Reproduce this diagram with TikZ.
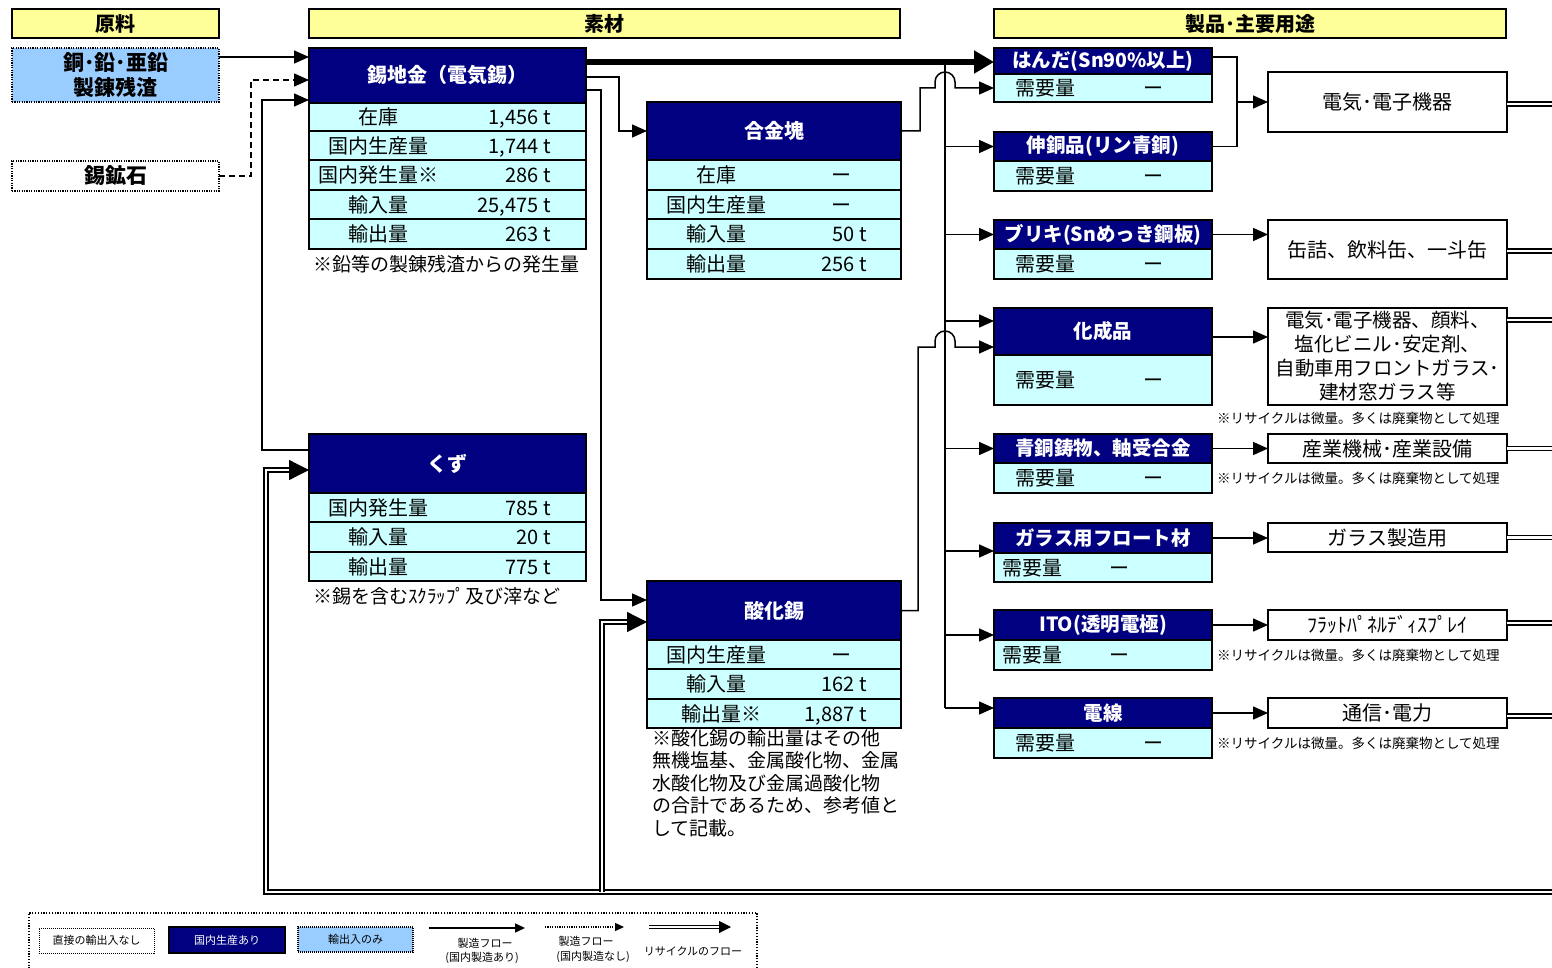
\documentclass[tikz,border=0pt]{standalone}
\usepackage{fontspec}
\setmainfont{Noto Sans CJK JP}
\usetikzlibrary{arrows.meta}
\definecolor{hdrY}{HTML}{FFFF99}
\definecolor{navyB}{HTML}{000080}
\definecolor{rowC}{HTML}{CCFFFF}
\definecolor{blueL}{HTML}{99CCFF}
\newcommand\fs[1]{\fontsize{#1}{#1}\selectfont}
\newcommand\bx[7]{\node[#1,anchor=north west,minimum width={#4pt-#2pt},minimum height={#5pt-#3pt}] (#6) at (#2,#3) {#7};}
\newcommand\rw[9]{\bx{cellr}{#1}{#2}{#3}{#4}{#5}{}%
  \node[lab] (#5l) at (#6,{(#2+#4)/2}) {#7};%
  \node[valr] (#5v) at (#8,{(#2+#4)/2}) {#9};}
\begin{document}
\begin{tikzpicture}[x=1pt,y=-1pt,
 box/.style={anchor=north west,inner sep=0pt,outer sep=0pt,draw=black,line width=2.5pt},
 yhdr/.style={box,fill=hdrY,font=\bfseries\fs{20}},
 navyh/.style={box,fill=navyB,text=white,font=\bfseries\fs{20}},
 prodh/.style={box,fill=navyB,text=white,font=\bfseries\fs{19.5}},
 cellr/.style={box,fill=rowC},
 useb/.style={box,fill=white,font=\fs{20},align=center},
 srcb/.style={box,dash pattern=on 1.2pt off 1.2pt,font=\bfseries\fontsize{21}{25}\selectfont,align=center},
 lab/.style={inner sep=0pt,font=\fs{20},text height=17.6pt,text depth=2.4pt},
 valr/.style={inner sep=0pt,font=\fs{20},anchor=east,text height=17.6pt,text depth=2.4pt},
 notel/.style={inner sep=0pt,font=\fs{19},anchor=west},
 rnote/.style={inner sep=0pt,font=\fs{13.5},anchor=west},
 ln/.style={line width=1.5pt},
 flow/.style={ln,-{Triangle[length=15pt,width=13pt]}},
 recyc/.style={double=white,double distance=2.5pt,line width=1.3pt},
 recarr/.style={recyc,-{Triangle[length=20pt,width=20pt]}},
 lgt/.style={inner sep=0pt,font=\fs{11}},
]
\useasboundingbox[fill=white] (0,0) rectangle (1552,968);

% headers
\bx{yhdr}{12}{9}{219}{38}{hA}{原料}
\bx{yhdr}{309}{9}{900}{38}{hB}{素材}
\bx{yhdr}{994}{9}{1506}{38}{hC}{製品･主要用途}

% sources
\bx{srcb,fill=blueL}{12}{48}{219}{102}{sCu}{銅･鉛･亜鉛\\製錬残渣}
\bx{srcb,fill=white}{12}{161}{219}{191}{sOre}{錫鉱石}

% tin ingot
\bx{navyh}{309}{48}{586}{103}{tinH}{錫地金（電気錫）}
\rw{309}{103}{586}{131}{tinA}{378}{在庫}{551}{1,456 t}
\rw{309}{131}{586}{160}{tinB}{378}{国内生産量}{551}{1,744 t}
\rw{309}{160}{586}{190}{tinC}{378}{国内発生量※}{551}{286 t}
\rw{309}{190}{586}{219}{tinD}{378}{輸入量}{551}{25,475 t}
\rw{309}{219}{586}{249}{tinE}{378}{輸出量}{551}{263 t}
\node[notel] (tinN) at (313,264) {※鉛等の製錬残渣からの発生量};

% alloy
\bx{navyh}{647}{102}{901}{160}{gH}{合金塊}
\rw{647}{160}{901}{190}{gA}{716}{在庫}{852}{ー}
\rw{647}{190}{901}{219}{gB}{716}{国内生産量}{852}{ー}
\rw{647}{219}{901}{249}{gC}{716}{輸入量}{867}{50 t}
\rw{647}{249}{901}{279}{gD}{716}{輸出量}{867}{256 t}

% scrap
\bx{navyh}{309}{434}{586}{493}{kH}{くず}
\rw{309}{493}{586}{522}{kA}{378}{国内発生量}{551}{785 t}
\rw{309}{522}{586}{552}{kB}{378}{輸入量}{551}{20 t}
\rw{309}{552}{586}{581}{kC}{378}{輸出量}{551}{775 t}
\node[notel] (kN) at (313,596) {※錫を含むｽｸﾗｯﾌﾟ及び滓など};

% tin oxide
\bx{navyh}{647}{581}{901}{640}{oH}{酸化錫}
\rw{647}{640}{901}{669}{oA}{716}{国内生産量}{852}{ー}
\rw{647}{669}{901}{699}{oB}{716}{輸入量}{867}{162 t}
\rw{647}{699}{901}{728}{oC}{721}{輸出量※}{867}{1,887 t}
\node[inner sep=0pt,anchor=north west,align=left,font=\fontsize{19}{22.5}\selectfont] (oN) at (652,729)
 {※酸化錫の輸出量はその他\\無機塩基、金属酸化物、金属\\水酸化物及び金属過酸化物\\の合計であるため、参考値と\\して記載。};

% products
\bx{prodh}{994}{48}{1212}{74}{p1H}{はんだ(Sn90\%以上)}
\rw{994}{74}{1212}{102}{p1r}{1045}{需要量}{1164}{ー}
\bx{prodh}{994}{132}{1212}{161}{p2H}{伸銅品(リン青銅)}
\rw{994}{161}{1212}{191}{p2r}{1045}{需要量}{1164}{ー}
\bx{prodh}{994}{220}{1212}{249}{p3H}{ブリキ(Snめっき鋼板)}
\rw{994}{249}{1212}{279}{p3r}{1045}{需要量}{1164}{ー}
\bx{prodh}{994}{308}{1212}{355}{p4H}{化成品}
\rw{994}{355}{1212}{405}{p4r}{1045}{需要量}{1164}{ー}
\bx{prodh}{994}{434}{1212}{463}{p5H}{青銅鋳物、軸受合金}
\rw{994}{463}{1212}{493}{p5r}{1045}{需要量}{1164}{ー}
\bx{prodh}{994}{523}{1212}{553}{p6H}{ガラス用フロート材}
\rw{994}{553}{1212}{582}{p6r}{1032}{需要量}{1130}{ー}
\bx{prodh}{994}{610}{1212}{640}{p7H}{ITO(透明電極)}
\rw{994}{640}{1212}{670}{p7r}{1032}{需要量}{1130}{ー}
\bx{prodh}{994}{698}{1212}{728}{p8H}{電線}
\rw{994}{728}{1212}{758}{p8r}{1045}{需要量}{1164}{ー}

% uses
\bx{useb}{1268}{72}{1507}{132}{u1}{電気･電子機器}
\bx{useb}{1268}{220}{1507}{279}{u2}{缶詰、飲料缶、一斗缶}
\bx{useb,font=\fontsize{19.5}{24}\selectfont}{1268}{308}{1507}{405}{u3}{電気･電子機器、顔料、\\塩化ビニル･安定剤、\\自動車用フロントガラス･\\建材窓ガラス等}
\bx{useb}{1268}{434}{1507}{463}{u4}{産業機械･産業設備}
\bx{useb}{1268}{523}{1507}{552}{u5}{ガラス製造用}
\bx{useb}{1268}{610}{1507}{640}{u6}{ﾌﾗｯﾄﾊﾟﾈﾙﾃﾞｨｽﾌﾟﾚｲ}
\bx{useb}{1268}{698}{1507}{728}{u7}{通信･電力}
\node[rnote] (n1) at (1217,418) {※リサイクルは微量。多くは廃棄物として処理};
\node[rnote] (n2) at (1217,478) {※リサイクルは微量。多くは廃棄物として処理};
\node[rnote] (n3) at (1217,655) {※リサイクルは微量。多くは廃棄物として処理};
\node[rnote] (n4) at (1217,743) {※リサイクルは微量。多くは廃棄物として処理};

% ---- connectors ----
\draw[flow] ([yshift=18]sCu.east) -- ([yshift=18]sCu.east -| tinH.west);
\draw[flow,dash pattern=on 6pt off 4pt] (sOre.east) -- (251,176) |- ([yshift=-4.5]tinH.west);
\draw[flow] ([yshift=13.5]kH.west) -- (262,450) |- ([yshift=-24.5]tinH.west);
\draw[line width=6pt,-{Triangle[length=20pt,width=22pt]}] ([yshift=13.5]tinH.east) -- ([yshift=13.5]tinH.east -| p1H.west);
\draw[flow] ([yshift=-1.5]tinH.east) -- (619,77) |- (gH.west);
\draw[flow] ([yshift=-14.5]tinH.east) -- (601,90) |- ([yshift=10.5]oH.west);
\draw[flow] (gH.east) -- (920,131) -- (920,88) -- (935,88) -- (935,82) arc[start angle=180,end angle=0,radius=10pt] -- (955,88) -- (p1r.west);
\draw[flow] (oH.east) -- (918,610.5) -- (918,347) -- (935,347) -- (935,341) arc[start angle=180,end angle=0,radius=10pt] -- (955,347) -- ([yshift=-15.5]p4H.west);
\coordinate (busT) at (945,62);
\coordinate (busB) at (945,708);
\draw[ln] (busT) -- (busB);
\draw[flow] (busT |- p2H.west) -- (p2H.west);
\draw[flow] (busT |- p3H.west) -- (p3H.west);
\draw[flow] ([yshift=10.5]p4H.west -| busT) -- ([yshift=10.5]p4H.west);
\draw[flow] (busT |- p5H.west) -- (p5H.west);
\draw[flow] ([yshift=-13]p6H.west -| busT) -- ([yshift=-13]p6H.west);
\draw[flow] ([yshift=-10]p7H.west -| busT) -- ([yshift=-10]p7H.west);
\draw[flow] (busB) -- (busB -| p8H.west);
% products to uses
\coordinate (jn) at (1237,102);
\draw[ln] ([yshift=4]p1H.east) -| (jn |- p2H.east) -- (p2H.east);
\draw[flow] (jn) -- (u1.west);
\draw[flow] (p3H.east) -- (p3H.east -| u2.west);
\draw[flow] ([yshift=-5.5]p4H.east) -- ([yshift=-5.5]p4H.east -| u3.west);
\draw[flow] (p5H.east) -- (p5H.east -| u4.west);
\draw[flow] (p6H.east) -- (p6H.east -| u5.west);
\draw[flow] (p7H.east) -- (p7H.east -| u6.west);
\draw[flow] (p8H.east) -- (p8H.east -| u7.west);
% recycle
\coordinate (rE) at (1562,892);
\draw[recyc] ([yshift=-2]u1.east) -- ([yshift=-2]u1.east -| rE);
\draw[recyc] ([yshift=-1.5]u2.east) -- ([yshift=-1.5]u2.east -| rE);
\draw[recyc] ([yshift=36.5]u3.east) -- ([yshift=36.5]u3.east -| rE);
\draw[recyc] (u4.east) -- (u4.east -| rE);
\draw[recyc] (u5.east) -- (u5.east -| rE);
\draw[recyc] ([yshift=2]u6.east) -- ([yshift=2]u6.east -| rE);
\draw[recyc] ([yshift=-3]u7.east) -- ([yshift=-3]u7.east -| rE);
\draw[recarr] (rE) -- (266,892) |- ([yshift=-6.5]kH.west);
\draw[recarr] (602,892) |- ([yshift=-11.5]oH.west);

% legend
\node[anchor=north west,inner sep=0pt,outer sep=0pt,draw,line width=1.5pt,dash pattern=on 1.2pt off 1.6pt,minimum width=728pt,minimum height=80pt] (leg) at (29,913) {};
\bx{box,line width=1pt,dash pattern=on 1pt off 1pt,fill=white,font=\fs{11}}{39}{928}{154}{953}{lg1}{直接の輸出入なし}
\bx{box,line width=2pt,fill=navyB,text=white,font=\fs{11}}{169}{927}{285}{953}{lg2}{国内生産あり}
\bx{box,line width=1.5pt,dash pattern=on 1pt off 1pt,fill=blueL,font=\fs{11}}{298}{927}{413}{952}{lg3}{輸出入のみ}
\coordinate (la1) at (429,928); \coordinate (la2) at (525,928);
\draw[line width=1.5pt,-{Triangle[length=10pt,width=9pt]}] (la1) -- (la2);
\node[lgt] (lt1) at (485,943) {製造フロー};
\node[lgt] (lt2) at (482,958) {(国内製造あり)};
\coordinate (lb1) at (545,927); \coordinate (lb2) at (624,927);
\draw[line width=1.3pt,dash pattern=on 1.2pt off 1.2pt,-{Triangle[length=9pt,width=8pt]}] (lb1) -- (lb2);
\node[lgt] (lt3) at (586,941) {製造フロー};
\node[lgt] (lt4) at (593,957) {(国内製造なし)};
\coordinate (lc1) at (649,927); \coordinate (lc2) at (731,927);
\draw[recyc,line width=1pt,double distance=2pt,-{Triangle[length=12pt,width=12pt]}] (lc1) -- (lc2);
\node[lgt] (lt5) at (693,951) {リサイクルのフロー};
\end{tikzpicture}
\end{document}
